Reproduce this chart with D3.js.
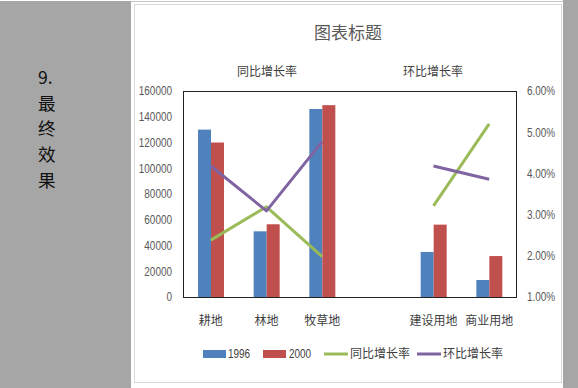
<!DOCTYPE html>
<html>
<head>
<meta charset="utf-8">
<script src="https://cdn.jsdelivr.net/npm/d3@7"></script>
<style>
  body { margin: 0; background: #fff; }
  svg { display: block; }
</style>
</head>
<body>
<svg id="chart" width="578" height="388"></svg>
<script>
// data
const categories = ["耕地", "林地", "牧草地", "", "建设用地", "商业用地"];
const series1996 = [130000, 51000, 146000, null, 35000, 13200];
const series2000 = [120000, 56500, 149000, null, 56200, 31800];
const yoyRate = [0.0238, 0.0319, 0.0198, null, 0.0321, 0.052];
const momRate = [0.0418, 0.0309, 0.0477, null, 0.0418, 0.0386];
const leftTicks = [0, 20000, 40000, 60000, 80000, 100000, 120000, 140000, 160000];
const rightTicks = [0.01, 0.02, 0.03, 0.04, 0.05, 0.06];
const sideText = ["9.", "最", "终", "效", "果"];

const colors = { b1996: "#4f81bd", b2000: "#c0504d", yoy: "#9bbb59", mom: "#8064a2" };
const cjk = "'Noto Sans CJK SC', sans-serif";
const latin = "'Liberation Sans', Arial, sans-serif";
const squeeze = 0.83; // narrow look for the number labels

const svg = d3.select("#chart");

// page background / left panel
svg.append("rect").attr("x", 0).attr("y", 1).attr("width", 131).attr("height", 387).attr("fill", "#a6a6a6");
svg.append("rect").attr("x", 563).attr("y", 0).attr("width", 15).attr("height", 388).attr("fill", "#a6a6a6");
svg.append("line").attr("x1", 131).attr("x2", 563).attr("y1", 1.5).attr("y2", 1.5).attr("stroke", "#c8c8c8");
svg.append("rect")
  .attr("x", 134.5).attr("y", 4.5).attr("width", 427).attr("height", 378)
  .attr("fill", "#fff").attr("stroke", "#d9d9d9");

svg.append("g")
  .selectAll("text")
  .data(sideText)
  .join("text")
  .attr("x", 38)
  .attr("y", (d, i) => 84 + i * 25.7)
  .attr("font-family", cjk)
  .attr("font-size", 17.6)
  .attr("fill", "#111")
  .text((d) => d);

// scales
const plot = { left: 183, right: 517, top: 91, bottom: 297 };
const x = d3.scaleBand().domain(d3.range(categories.length)).range([plot.left, plot.right]);
const xs = d3.scaleBand().domain(["b1996", "b2000"]).range([15, 41]);
const yL = d3.scaleLinear().domain([0, 160000]).range([plot.bottom, plot.top]);
const yR = d3.scaleLinear().domain([0.01, 0.06]).range([plot.bottom, plot.top]);

// titles
svg.append("text").attr("x", 348).attr("y", 39).attr("text-anchor", "middle")
  .attr("font-family", cjk).attr("font-size", 17).attr("fill", "#595959").text("图表标题");
svg.append("text").attr("x", 267).attr("y", 76).attr("text-anchor", "middle")
  .attr("font-family", cjk).attr("font-size", 12).attr("fill", "#404040").text("同比增长率");
svg.append("text").attr("x", 433).attr("y", 76).attr("text-anchor", "middle")
  .attr("font-family", cjk).attr("font-size", 12).attr("fill", "#404040").text("环比增长率");

// bars
const barData = [];
categories.forEach((c, i) => {
  if (series1996[i] != null) barData.push({ i, key: "b1996", v: series1996[i] });
  if (series2000[i] != null) barData.push({ i, key: "b2000", v: series2000[i] });
});
svg.append("g")
  .selectAll("rect")
  .data(barData)
  .join("rect")
  .attr("x", (d) => x(d.i) + xs(d.key))
  .attr("y", (d) => yL(d.v))
  .attr("width", xs.bandwidth())
  .attr("height", (d) => plot.bottom - yL(d.v))
  .attr("fill", (d) => colors[d.key]);

// lines
const line = d3.line()
  .defined((d) => d != null)
  .x((d, i) => x(i) + x.bandwidth() / 2)
  .y((d) => yR(d));
[["yoy", yoyRate], ["mom", momRate]].forEach(([k, arr]) => {
  svg.append("path")
    .attr("d", line(arr))
    .attr("fill", "none")
    .attr("stroke", colors[k])
    .attr("stroke-width", 3)
    .attr("stroke-linejoin", "round");
});

// plot frame
svg.append("rect")
  .attr("x", plot.left + 0.5).attr("y", plot.top + 0.5)
  .attr("width", plot.right - plot.left - 1).attr("height", plot.bottom - plot.top)
  .attr("fill", "none").attr("stroke", "#222");

// axes
const axL = svg.append("g").attr("transform", `translate(${plot.left},0)`)
  .call(d3.axisLeft(yL).tickValues(leftTicks).tickSize(0).tickFormat(d3.format("d")));
const axR = svg.append("g").attr("transform", `translate(${plot.right},0)`)
  .call(d3.axisRight(yR).tickValues(rightTicks).tickSize(0).tickFormat(d3.format(".2%")));
[[axL, -11], [axR, 10]].forEach(([g, pad]) => {
  g.select(".domain").remove();
  g.selectAll(".tick text")
    .attr("x", pad / squeeze)
    .attr("transform", `scale(${squeeze},1)`)
    .attr("font-family", latin).attr("font-size", 12).attr("fill", "#595959");
});

svg.append("g")
  .selectAll("text")
  .data(categories)
  .join("text")
  .attr("x", (d, i) => x(i) + x.bandwidth() / 2)
  .attr("y", 325)
  .attr("text-anchor", "middle")
  .attr("font-family", cjk)
  .attr("font-size", 12)
  .attr("fill", "#404040")
  .text((d) => d);

// legend
const legend = [
  { label: "1996", key: "b1996", type: "bar", x: 203, tx: 228 },
  { label: "2000", key: "b2000", type: "bar", x: 263, tx: 289 },
  { label: "同比增长率", key: "yoy", type: "line", x: 324, tx: 350 },
  { label: "环比增长率", key: "mom", type: "line", x: 417, tx: 443 },
];
const lg = svg.append("g").selectAll("g").data(legend).join("g");
lg.filter((d) => d.type === "bar").append("rect")
  .attr("x", (d) => d.x).attr("y", 350).attr("width", 23).attr("height", 8)
  .attr("fill", (d) => colors[d.key]);
lg.filter((d) => d.type === "line").append("line")
  .attr("x1", (d) => d.x).attr("x2", (d) => d.x + 24).attr("y1", 354).attr("y2", 354)
  .attr("stroke", (d) => colors[d.key]).attr("stroke-width", 3);
lg.append("text")
  .attr("transform", (d) => `translate(${d.tx},358)` + (d.type === "bar" ? ` scale(${squeeze},1)` : ""))
  .attr("font-family", (d) => (d.type === "bar" ? latin : cjk))
  .attr("font-size", 12)
  .attr("fill", "#404040")
  .text((d) => d.label);
</script>
</body>
</html>
